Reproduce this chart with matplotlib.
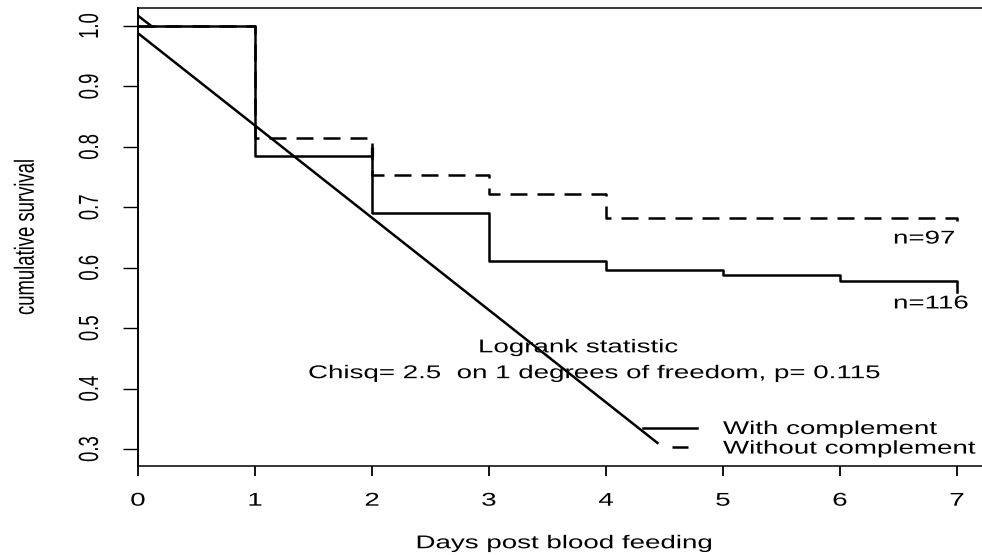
import matplotlib
matplotlib.use('Agg')
import matplotlib.pyplot as plt
from matplotlib.lines import Line2D
from matplotlib.patheffects import AbstractPathEffect
from matplotlib.transforms import Affine2D

#%% values
days = [0, 1, 2, 3, 4, 5, 6, 7]
surv_with = [1.0, 0.785, 0.691, 0.611, 0.597, 0.588, 0.578, 0.560]      # n=116
surv_without = [1.0, 0.815, 0.753, 0.722, 0.683, 0.683, 0.683, 0.677]   # n=97

# censor tick on the 'with' curve
censor_x = [2]
censor_lo = [0.785]
censor_hi = [0.800]

# straight line through the plot and the short piece at top left
fit_x = [0, 4.44]
fit_y = [0.988, 0.31]
seg_x = [0, 0.114]
seg_y = [1.017, 1.0]

xticks = [0, 1, 2, 3, 4, 5, 6, 7]
yticks = [0.3, 0.4, 0.5, 0.6, 0.7, 0.8, 0.9, 1.0]
labels = ['With complement', 'Without complement']


#%% the original picture is stretched sideways, so stretch the text too
class Stretch(AbstractPathEffect):
    def __init__(self, txt, sx=1.5):
        super().__init__()
        self.txt = txt
        self.sx = sx

    def draw_path(self, renderer, gc, tpath, affine, rgbFace=None):
        x0, y0 = self.txt.get_transform().transform(self.txt.get_position())
        st = Affine2D().translate(-x0, 0).scale(self.sx, 1).translate(x0, 0)
        renderer.draw_path(gc, tpath, affine + st, rgbFace)


def stretch(t):
    t.set_path_effects([Stretch(t)])


plt.rcParams['font.family'] = 'Liberation Sans'
plt.rcParams['font.size'] = 13.3

W, H = 982, 555
fig = plt.figure(figsize=(W / 100, H / 100), dpi=100)
ax = fig.add_axes([138 / W, (H - 466) / H, (990 - 138) / W, (466 - 8) / H])

lw = 1.8
ax.step(days, surv_without, where='post', color='k', lw=lw,
        linestyle=(0, (6.8, 4.0)), dash_capstyle='butt')
ax.step(days, surv_with, where='post', color='k', lw=lw)
ax.vlines(censor_x, censor_lo, censor_hi, color='k', lw=lw * 1.3)
ax.plot(fit_x, fit_y, color='k', lw=lw)
ax.plot(seg_x, seg_y, color='k', lw=lw)

ax.set_xlim(0, 852 / 117)
ax.set_ylim(0.3 - 17 / 604, 1.0 + 18 / 604)
ax.set_xticks(xticks)
ax.set_xticklabels([str(v) for v in xticks])
ax.set_yticks(yticks)
ax.set_yticklabels(['%.1f' % v for v in yticks])
ax.tick_params(axis='y', length=10.8, width=1.0, pad=13.7, labelrotation=90)
ax.tick_params(axis='x', length=7.2, width=1.3, pad=12)
for lbl in ax.get_yticklabels():
    lbl.set_va('center')
    stretch(lbl)
for lbl in ax.get_xticklabels():
    stretch(lbl)

ax.spines['right'].set_visible(False)
ax.spines['left'].set_linewidth(1.4)
ax.spines['bottom'].set_linewidth(1.1)
ax.spines['top'].set_linewidth(1.1)

ax.set_xlabel('Days post blood feeding', labelpad=18.4)
ax.set_ylabel('cumulative survival', labelpad=34)
stretch(ax.xaxis.label)
stretch(ax.yaxis.label)

t = ax.text(2.906, 0.460, 'Logrank statistic', ha='left', va='baseline')
stretch(t)
t = ax.text(1.453, 0.4172, 'Chisq= 2.5  on 1 degrees of freedom, p= 0.115',
            ha='left', va='baseline')
stretch(t)
t = ax.text(6.453, 0.640, 'n=97', ha='left', va='baseline')
stretch(t)
t = ax.text(6.453, 0.5326, 'n=116', ha='left', va='baseline')
stretch(t)

h1 = Line2D([], [], color='k', lw=lw)
h2 = Line2D([], [], color='k', lw=lw, linestyle=(6.4, (6.4, 11.6)),
            dash_capstyle='butt')
leg = ax.legend([h1, h2], labels, loc='upper left',
                bbox_to_anchor=(643 / W, 1 - 421 / H), bbox_transform=fig.transFigure,
                frameon=False, borderpad=0, borderaxespad=0,
                handlelength=2.92, handletextpad=1.41, labelspacing=0.14)
for t in leg.get_texts():
    stretch(t)

fig.savefig('out.png', dpi=100)
